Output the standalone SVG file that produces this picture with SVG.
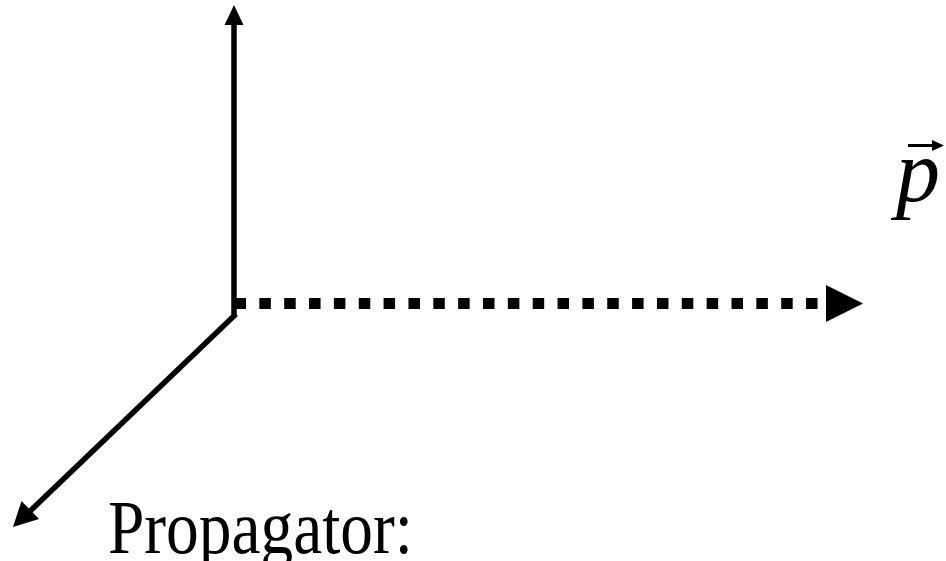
<svg xmlns="http://www.w3.org/2000/svg" width="946" height="561" viewBox="0 0 946 561">
<style>
.ax{stroke:#000;fill:none;stroke-linecap:butt}
.hd{fill:#000;stroke:none}
.t{font-family:"Liberation Serif","Times New Roman",serif;fill:#000}
</style>
<rect width="946" height="561" fill="#fff"/>
<g id="connectors">
<g id="axis-up">
<line class="ax" x1="234" y1="316" x2="234" y2="22" stroke-width="5.5"/>
<polygon class="hd" points="234,5 243.5,25 224.5,25"/>
</g>
<g id="axis-diag">
<line class="ax" x1="236" y1="314" x2="27" y2="514" stroke-width="5.5"/>
<polygon class="hd" points="13,527 21.5,501 39,519"/>
</g>
<g id="axis-momentum">
<line class="ax" x1="234.5" y1="303.5" x2="819" y2="303.5" stroke-width="11" stroke-dasharray="11.5 13.35"/>
<polygon class="hd" points="826,285 863,303.5 826,322"/>
</g>
</g>
<g id="label-p">
<text class="t" x="896" y="201" font-size="88" font-style="italic">p</text>
<line class="ax" x1="908" y1="145.5" x2="934" y2="145.5" stroke-width="3"/>
<polygon class="hd" points="944,145.5 932,140 932,151"/>
</g>
<g id="label-propagator">
<text class="t" x="108" y="553" font-size="76" textLength="305" lengthAdjust="spacingAndGlyphs">Propagator:</text>
</g>
</svg>
